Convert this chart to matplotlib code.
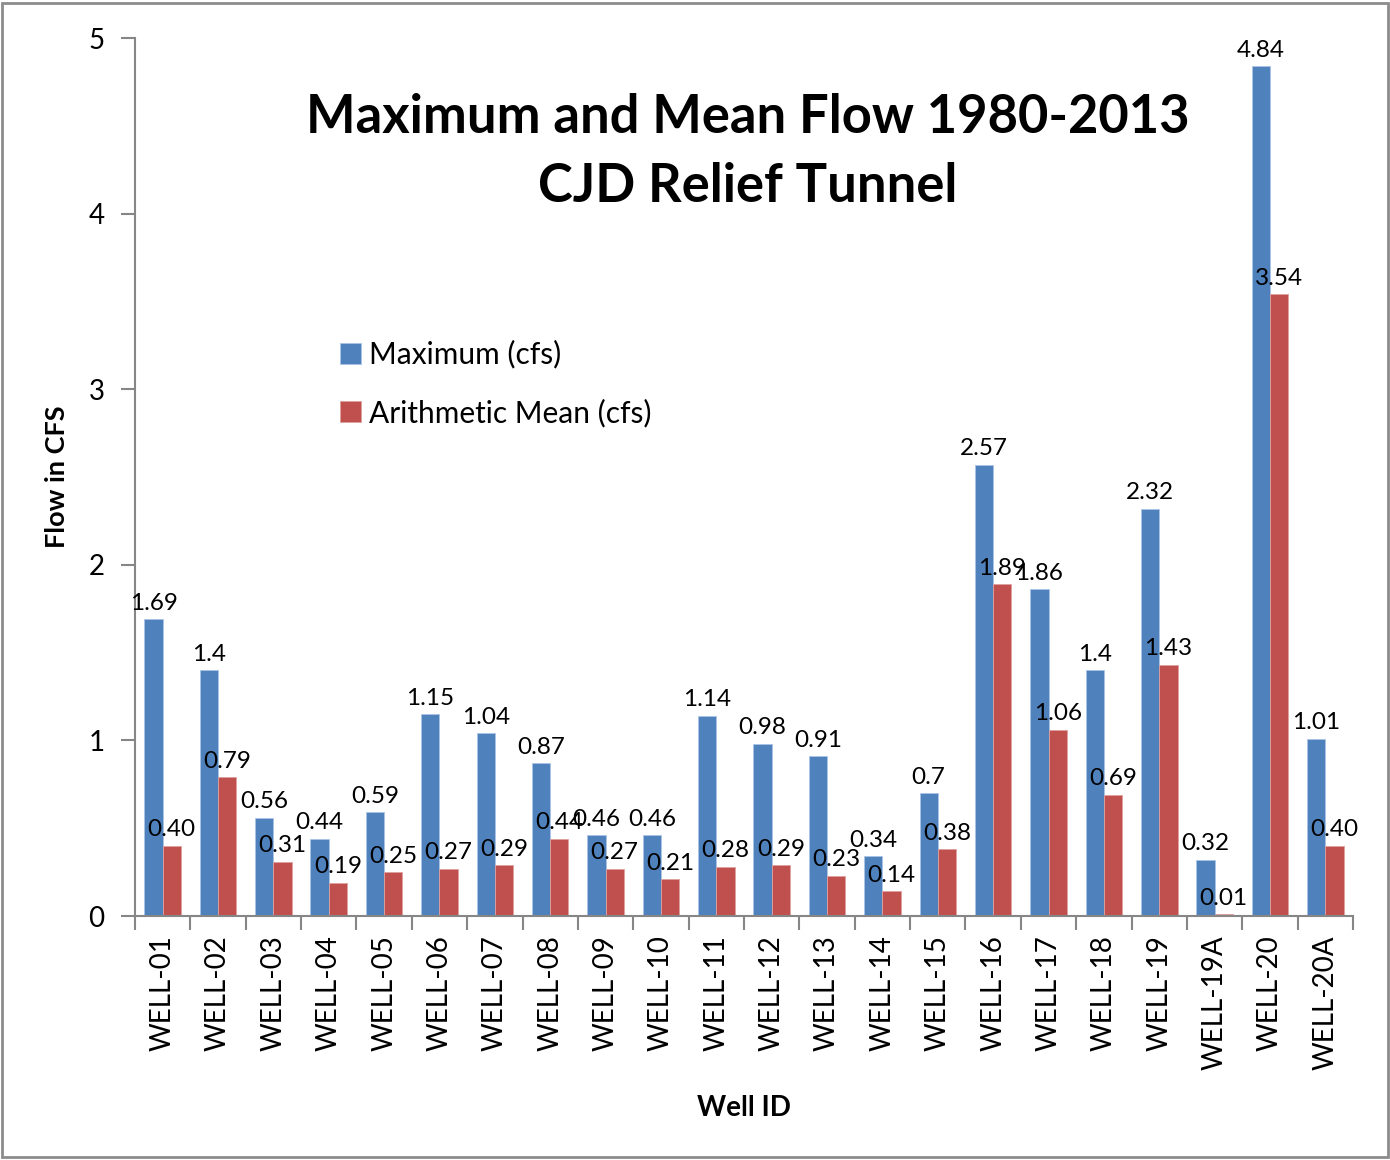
import numpy as np
import matplotlib.pyplot as plt
from matplotlib.patches import Rectangle

plt.rcParams['font.family'] = ['Lato', 'DejaVu Sans']

wells = ['WELL-01', 'WELL-02', 'WELL-03', 'WELL-04', 'WELL-05', 'WELL-06',
         'WELL-07', 'WELL-08', 'WELL-09', 'WELL-10', 'WELL-11', 'WELL-12',
         'WELL-13', 'WELL-14', 'WELL-15', 'WELL-16', 'WELL-17', 'WELL-18',
         'WELL-19', 'WELL-19A', 'WELL-20', 'WELL-20A']
max_flow = [1.69, 1.4, 0.56, 0.44, 0.59, 1.15, 1.04, 0.87, 0.46, 0.46, 1.14,
            0.98, 0.91, 0.34, 0.7, 2.57, 1.86, 1.4, 2.32, 0.32, 4.84, 1.01]
mean_flow = [0.40, 0.79, 0.31, 0.19, 0.25, 0.27, 0.29, 0.44, 0.27, 0.21, 0.28,
             0.29, 0.23, 0.14, 0.38, 1.89, 1.06, 0.69, 1.43, 0.01, 3.54, 0.40]
max_labels = ['1.69', '1.4', '0.56', '0.44', '0.59', '1.15', '1.04', '0.87',
              '0.46', '0.46', '1.14', '0.98', '0.91', '0.34', '0.7', '2.57',
              '1.86', '1.4', '2.32', '0.32', '4.84', '1.01']
mean_labels = ['%.2f' % v for v in mean_flow]

blue = '#4F81BD'
red = '#C0504D'
grey = '#868686'

fig = plt.figure(figsize=(13.9, 11.6), dpi=100)
ax = fig.add_axes([0.0971, 0.2103, 0.8763, 0.7569])

x = np.arange(len(wells))
w = 0.33
b1 = ax.bar(x - w, max_flow, w, align='edge', color=blue, edgecolor='#a9c4e6', lw=0.6,
            label='Maximum (cfs)')
b2 = ax.bar(x, mean_flow, w, align='edge', color=red, edgecolor='#e0a09e', lw=0.6,
            label='Arithmetic Mean (cfs)')

ax.bar_label(b1, labels=max_labels, padding=4, fontsize=17.5)
ax.bar_label(b2, labels=mean_labels, padding=4, fontsize=17.5)

ax.set_xlim(-0.5, len(wells) - 0.5)
ax.set_ylim(0, 5)
ax.set_yticks([0, 1, 2, 3, 4, 5])
ax.set_xticks(x)
ax.set_xticklabels(wells, rotation=90, fontsize=20)
ax.set_xticks(np.arange(len(wells) + 1) - 0.5, minor=True)
ax.tick_params(axis='x', which='major', length=0, pad=14)
ax.tick_params(axis='x', which='minor', length=10, width=1.5, color=grey, direction='out')
ax.tick_params(axis='y', length=10, width=1.5, color=grey, labelsize=20, pad=12)

for s in ['top', 'right']:
    ax.spines[s].set_visible(False)
for s in ['left', 'bottom']:
    ax.spines[s].set_color(grey)
    ax.spines[s].set_linewidth(1.5)

ax.set_ylabel('Flow in CFS', fontsize=19.5, fontweight='bold', labelpad=14)
ax.set_xlabel('Well ID', fontsize=20, fontweight='bold', labelpad=18)

fig.text(0.538, 0.899, 'Maximum and Mean Flow 1980-2013', ha='center', va='center',
         fontsize=37.8, fontweight='bold')
fig.text(0.538, 0.839, 'CJD Relief Tunnel', ha='center', va='center',
         fontsize=37.8, fontweight='bold')

ax.legend(loc='upper left', bbox_to_anchor=(0.225, 0.73), bbox_transform=fig.transFigure,
          frameon=False, fontsize=21.5, handlelength=0.7, handleheight=0.7,
          handletextpad=0.3, labelspacing=1.0)

fig.add_artist(Rectangle((0.0015, 0.003), 0.997, 0.994, transform=fig.transFigure,
                         fill=False, edgecolor='#8c8c8c', lw=2))

plt.savefig('out.png')
